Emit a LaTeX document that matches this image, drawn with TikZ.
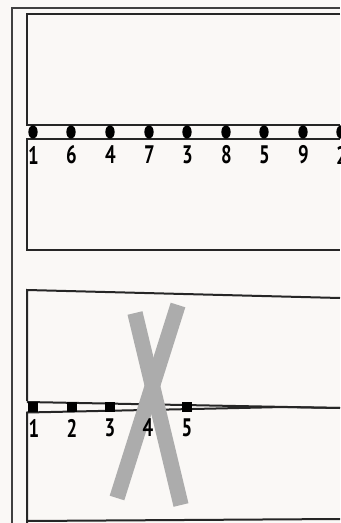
\documentclass[tikz,border=0pt]{standalone}
\usepackage{fontspec}
\setmainfont{PT Sans}
\usetikzlibrary{shapes.geometric}
\definecolor{bg}{RGB}{250,248,246}
\definecolor{xgray}{RGB}{172,172,172}
\newcommand{\numtxt}[1]{\scalebox{0.74}[1]{\fontsize{19}{20}\selectfont\bfseries #1}}
\begin{document}
\begin{tikzpicture}[x=0.75pt,y=-0.75pt,
  boxline/.style={line width=1.5pt,black!85},
  dotmark/.style={ellipse,fill=black,inner sep=0pt,minimum width=7pt,minimum height=10pt},
  sqmark/.style={rectangle,fill=black,inner sep=0pt,minimum width=7pt,minimum height=7.5pt},
  numlbl/.style={inner sep=0pt},
  xstroke/.style={line width=11.5pt,xgray,line cap=butt}]
\useasboundingbox (0,0) rectangle (340,523);
\fill[bg] (0,0) rectangle (340,523);
% frame
\draw[line width=0.8pt,black!75] (12,523) -- (12,8) -- (340,8);
% top boxes
\draw[boxline] (340,14) -- (27,14) -- (27,125) -- (340,125);
\draw[boxline] (340,139) -- (27,139) -- (27,250) -- (340,250);
\foreach \n/\x [count=\i] in {1/33,6/71,4/110,7/149,3/187,8/226,5/264,9/303,2/341}{
  \node[dotmark] (d\i) at (\x,132) {};
  \node[numlbl] (l\i) at (\x+0.5,155) {\numtxt{\n}};
}
% bottom boxes
\draw[boxline] (27,401) -- (27,290) -- (340,298);
\draw[boxline] (27,402) -- (340,408);
\draw[boxline] (340,408) -- (283,407) .. controls (240,408) .. (27,412.5) -- (27,523);
\draw[boxline] (27,521) -- (340,519);
\foreach \n/\x/\y in {1/33/407,2/72/406.5,3/110/406.5,5/187/406.5}{
  \node[sqmark] (s\n) at (\x,\y) {};
}
\node[sqmark] (s4) at (149,406.5) {};
% grey X
\draw[xstroke] (135,313) -- (181,505);
\draw[xstroke] (178,305) -- (117,498);
\foreach \n/\x in {1/34,2/72,3/110,4/148,5/187}{
  \node[numlbl] (m\n) at (\x,428) {\numtxt{\n}};
}
\end{tikzpicture}
\end{document}
